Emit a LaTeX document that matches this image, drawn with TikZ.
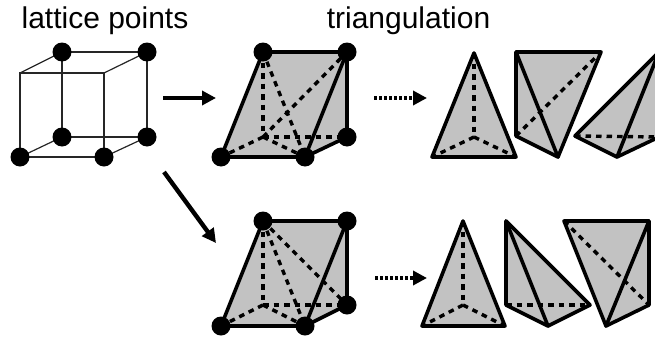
\documentclass[tikz,border=0pt]{standalone}
\usepackage{fontspec}
\setmainfont{Liberation Sans}
\usetikzlibrary{arrows.meta}

\tikzset{
  lattice/.style={circle, fill=black, inner sep=0pt, minimum size=19pt},
  thinedge/.style={line width=1.2pt, draw=black!85},
  solidedge/.style={line width=3.6pt, line join=round, line cap=round},
  hiddenedge/.style={line width=3.4pt, dash pattern=on 5.5pt off 5pt},
  shade/.style={fill=black!24},
  bigarrow/.style={line width=4.4pt, -{Triangle[length=14pt,width=14pt]}},
  title/.style={font=\fontsize{30}{34}\selectfont, inner sep=0pt, anchor=base}
}

\begin{document}
\begin{tikzpicture}[x=1pt, y=-1pt]
        \useasboundingbox (0,0) rectangle (655,340);

        \node (Lattice) [title] at (105,28) {lattice points};
        \node (Triangulation) [title] at (408.5,28) {triangulation};

        % cube
        \coordinate (CubeA) at (62,52);
        \coordinate (CubeB) at (147,52);
        \coordinate (CubeC) at (62,137);
        \coordinate (CubeD) at (147,137);
        \coordinate (CubeE) at (20,73);
        \coordinate (CubeF) at (104,73);
        \coordinate (CubeG) at (20,157);
        \coordinate (CubeH) at (104,157);

        \draw [thinedge] (CubeA) -- (CubeB) -- (CubeD) -- (CubeC) -- cycle;
        \draw [thinedge] (CubeE) -- (CubeF) -- (CubeH) -- (CubeG) -- cycle;
        \draw [thinedge] (CubeA) -- (CubeE);
        \draw [thinedge] (CubeB) -- (CubeF);
        \draw [thinedge] (CubeC) -- (CubeG);
        \draw [thinedge] (CubeD) -- (CubeH);

        \node (DotA) [lattice] at (CubeA) {};
        \node (DotB) [lattice] at (CubeB) {};
        \node (DotC) [lattice] at (CubeC) {};
        \node (DotD) [lattice] at (CubeD) {};
        \node (DotG) [lattice] at (CubeG) {};
        \node (DotH) [lattice] at (CubeH) {};

        % arrows
        \coordinate (ArrowUpStart) at (163,98);
        \coordinate (ArrowUpEnd) at (216,98);
        \coordinate (ArrowDownStart) at (164,172);
        \coordinate (ArrowDownEnd) at (216,243);
        \coordinate (SplitUpStart) at (374,98);
        \coordinate (SplitUpEnd) at (427,98);
        \coordinate (SplitDownStart) at (375,278);
        \coordinate (SplitDownEnd) at (427,278);

        \draw [bigarrow] (ArrowUpStart) -- (ArrowUpEnd);
        \draw [bigarrow] (ArrowDownStart) -- (ArrowDownEnd);
        \draw [bigarrow, dash pattern=on 3pt off 2pt] (SplitUpStart) -- (SplitUpEnd);
        \draw [bigarrow, dash pattern=on 3pt off 2pt] (SplitDownStart) -- (SplitDownEnd);

        % upper prism
        \coordinate (UpA) at (263,52);
        \coordinate (UpB) at (347,52);
        \coordinate (UpC) at (263,137);
        \coordinate (UpD) at (347,137);
        \coordinate (UpG) at (221,157);
        \coordinate (UpH) at (305,157);

        \fill [shade] (UpA) -- (UpB) -- (UpD) -- (UpH) -- (UpG) -- cycle;
        \draw [hiddenedge] (UpA) -- (UpC);
        \draw [hiddenedge] (UpC) -- (UpG);
        \draw [hiddenedge] (UpC) -- (UpH);
        \draw [hiddenedge] (UpC) -- (UpD);
        \draw [hiddenedge] (UpA) -- (UpH);
        \draw [hiddenedge] (UpC) -- (UpB);
        \draw [solidedge] (UpA) -- (UpB) -- (UpD) -- (UpH) -- (UpG) -- cycle;
        \draw [solidedge] (UpB) -- (UpH);

        \node (DotUpA) [lattice] at (UpA) {};
        \node (DotUpB) [lattice] at (UpB) {};
        \node (DotUpD) [lattice] at (UpD) {};
        \node (DotUpG) [lattice] at (UpG) {};
        \node (DotUpH) [lattice] at (UpH) {};

        % lower prism
        \coordinate (LowA) at (263,221);
        \coordinate (LowB) at (347,221);
        \coordinate (LowC) at (263,305);
        \coordinate (LowD) at (347,305);
        \coordinate (LowG) at (221,326);
        \coordinate (LowH) at (305,326);

        \fill [shade] (LowA) -- (LowB) -- (LowD) -- (LowH) -- (LowG) -- cycle;
        \draw [hiddenedge] (LowA) -- (LowC);
        \draw [hiddenedge] (LowC) -- (LowG);
        \draw [hiddenedge] (LowC) -- (LowH);
        \draw [hiddenedge] (LowC) -- (LowD);
        \draw [hiddenedge] (LowA) -- (LowH);
        \draw [hiddenedge] (LowA) -- (LowD);
        \draw [solidedge] (LowA) -- (LowB) -- (LowD) -- (LowH) -- (LowG) -- cycle;
        \draw [solidedge] (LowB) -- (LowH);

        \node (DotLowA) [lattice] at (LowA) {};
        \node (DotLowB) [lattice] at (LowB) {};
        \node (DotLowD) [lattice] at (LowD) {};
        \node (DotLowG) [lattice] at (LowG) {};
        \node (DotLowH) [lattice] at (LowH) {};

        % upper pieces
        \coordinate (TetA) at (474,53);
        \coordinate (TetB) at (432,157);
        \coordinate (TetC) at (516,157);
        \coordinate (TetD) at (474,137);
        \fill [shade] (TetA) -- (TetB) -- (TetC) -- cycle;
        \draw [hiddenedge] (TetA) -- (TetD);
        \draw [hiddenedge] (TetD) -- (TetB);
        \draw [hiddenedge] (TetD) -- (TetC);
        \draw [solidedge] (TetA) -- (TetB) -- (TetC) -- cycle;

        \coordinate (TetE) at (516,52);
        \coordinate (TetF) at (601,52);
        \coordinate (TetG) at (516,136);
        \coordinate (TetH) at (558,157);
        \fill [shade] (TetE) -- (TetF) -- (TetH) -- (TetG) -- cycle;
        \draw [hiddenedge] (TetG) -- (TetF);
        \draw [solidedge] (TetE) -- (TetF) -- (TetH) -- (TetG) -- cycle;
        \draw [solidedge] (TetE) -- (TetH);

        \coordinate (TetI) at (575,136);
        \coordinate (TetJ) at (617,157);
        \coordinate (TetK) at (659,52);
        \coordinate (TetL) at (659,137);
        \fill [shade] (TetI) -- (TetK) -- (TetL) -- (TetJ) -- cycle;
        \draw [hiddenedge] (TetI) -- (TetL);
        \draw [solidedge] (TetI) -- (TetK) -- (TetL) -- (TetJ) -- cycle;
        \draw [solidedge] (TetK) -- (TetJ);

        % lower pieces
        \coordinate (PieceA) at (463,221);
        \coordinate (PieceB) at (422,326);
        \coordinate (PieceC) at (505,326);
        \coordinate (PieceD) at (463,305);
        \fill [shade] (PieceA) -- (PieceB) -- (PieceC) -- cycle;
        \draw [hiddenedge] (PieceA) -- (PieceD);
        \draw [hiddenedge] (PieceD) -- (PieceB);
        \draw [hiddenedge] (PieceD) -- (PieceC);
        \draw [solidedge] (PieceA) -- (PieceB) -- (PieceC) -- cycle;

        \coordinate (PieceE) at (506,221);
        \coordinate (PieceF) at (506,305);
        \coordinate (PieceG) at (548,326);
        \coordinate (PieceH) at (590,305);
        \fill [shade] (PieceE) -- (PieceH) -- (PieceG) -- (PieceF) -- cycle;
        \draw [hiddenedge] (PieceF) -- (PieceH);
        \draw [solidedge] (PieceE) -- (PieceH) -- (PieceG) -- (PieceF) -- cycle;
        \draw [solidedge] (PieceE) -- (PieceG);

        \coordinate (PieceI) at (564,221);
        \coordinate (PieceJ) at (649,221);
        \coordinate (PieceK) at (649,305);
        \coordinate (PieceL) at (606,326);
        \fill [shade] (PieceI) -- (PieceJ) -- (PieceK) -- (PieceL) -- cycle;
        \draw [hiddenedge] (PieceI) -- (PieceK);
        \draw [solidedge] (PieceI) -- (PieceJ) -- (PieceK) -- (PieceL) -- cycle;
        \draw [solidedge] (PieceJ) -- (PieceL);
      \end{tikzpicture}
\end{document}
